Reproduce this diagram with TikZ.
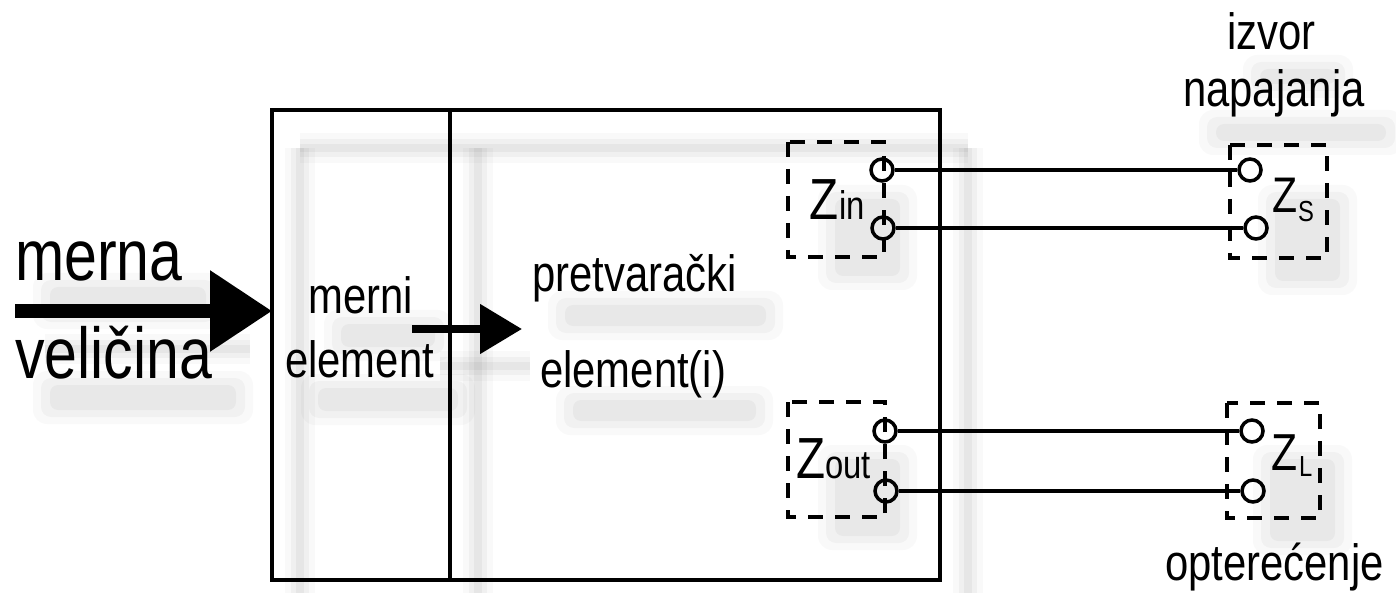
\documentclass[tikz,border=0pt]{standalone}
\usepackage{fontspec}
\setmainfont[FakeStretch=0.82]{Liberation Sans}
\usetikzlibrary{arrows.meta}
\tikzset{
  wire/.style={line width=3.5},
  frame/.style={line width=4},
  dbox/.style={draw, dash pattern=on 15pt off 12pt, line width=3.5},
  term/.style={circle, draw, line width=3.5, minimum size=22, inner sep=0pt},
  lbl/.style={font=\fontsize{51}{53}\selectfont, inner sep=0pt, anchor=base west},
  biglbl/.style={font=\fontsize{72}{74}\selectfont, inner sep=0pt, anchor=base west},
  zlbl/.style={font=\fontsize{58}{60}\selectfont, inner sep=0pt, anchor=base west},
  sublbl/.style={font=\fontsize{40}{42}\selectfont, inner sep=0pt, anchor=base west},
  tinysub/.style={font=\fontsize{29}{31}\selectfont, inner sep=0pt, anchor=base west},
  shade1/.style={draw=black, opacity=0.025, line width=30},
  shade2/.style={draw=black, opacity=0.035, line width=18},
  shade3/.style={draw=black, opacity=0.04, line width=8},
}
\newcommand{\softline}[1]{%
  \draw[shade1] #1; \draw[shade2] #1; \draw[shade3] #1;}
\newcommand{\softblob}[4]{%
  \fill[black, opacity=0.025, rounded corners=14] (#1-12,#2-10) rectangle (#3+12,#4+10);
  \fill[black, opacity=0.03, rounded corners=10] (#1-4,#2-3) rectangle (#3+4,#4+3);
  \fill[black, opacity=0.035, rounded corners=8] (#1+5,#2+4) rectangle (#3-5,#4-4);}
\begin{document}
\begin{tikzpicture}[x=1pt, y=-1pt]
  \useasboundingbox[fill=white] (0,0) rectangle (1396,593);

  % soft shadows
  \softline{(300,148) -- (968,148)}
  \softline{(300,148) -- (300,593)}
  \softline{(478,148) -- (478,593)}
  \softline{(968,148) -- (968,593)}
  \softline{(45,349) -- (250,349)}
  \softline{(440,366) -- (530,366)}
  \softblob{45}{283}{211}{319}
  \softblob{45}{381}{241}{414}
  \softblob{336}{320}{440}{351}
  \softblob{313}{384}{463}{415}
  \softblob{560}{301}{771}{330}
  \softblob{568}{396}{761}{425}
  \softblob{830}{195}{905}{280}
  \softblob{830}{455}{905}{540}
  \softblob{1270}{195}{1345}{285}
  \softblob{1265}{455}{1340}{545}
  \softblob{1255}{65}{1341}{88}
  \softblob{1211}{120}{1391}{145}

  % main block
  \coordinate (boxnw) at (272,110);
  \coordinate (boxse) at (940,580);
  \draw[frame] (boxnw) rectangle (boxse);
  \coordinate (divtop) at (450,110);
  \coordinate (divbot) at (450,580);
  \draw[frame] (divtop) -- (divbot);

  % input arrow
  \coordinate (inL) at (15,311);
  \coordinate (inR) at (272,311);
  \draw[line width=13, -{Triangle[length=62pt,width=78pt]}] (inL) -- (inR);

  % inner arrow
  \coordinate (midL) at (412,329);
  \coordinate (midR) at (522,329);
  \draw[line width=8, -{Triangle[length=42pt,width=48pt]}] (midL) -- (midR);

  % texts
  \node[biglbl] (merna) at (15,281) {merna};
  \node[biglbl] (velicina) at (15,378) {veličina};
  \node[lbl] (merni) at (308,313) {merni};
  \node[lbl] (element) at (285,377) {element};
  \node[lbl] (pretv) at (532,292) {pretvarački};
  \node[lbl] (elementi) at (540,387) {element(i)};
  \node[lbl] (izvor) at (1227,50) {izvor};
  \node[lbl] (napaj) at (1183,107) {napajanja};
  \node[lbl] (opter) at (1165,580) {opterećenje};

  % dashed boxes
  \draw[dbox] (788,142) rectangle (884,257);
  \draw[dbox] (788,402) rectangle (885,517);
  \draw[dbox] (1230,145) rectangle (1327,258);
  \draw[dbox] (1227,403) rectangle (1320,518);

  % Z labels
  \node[zlbl] (zin) at (809,220) {Z};
  \node[sublbl] (zinsub) at (839,220) {in};
  \node[zlbl] (zout) at (796,478) {Z};
  \node[sublbl] (zoutsub) at (825,478) {out};
  \node[zlbl, font=\fontsize{50}{52}\selectfont] (zs) at (1272,213) {Z};
  \node[tinysub] (zssub) at (1298,222) {S};
  \node[zlbl, font=\fontsize{52}{54}\selectfont] (zl) at (1271,470) {Z};
  \node[tinysub] (zlsub) at (1299,476) {L};

  % terminals
  \node[term] (a1) at (882,170) {};
  \node[term] (a2) at (883,228) {};
  \node[term] (b1) at (885,431) {};
  \node[term] (b2) at (886,491) {};
  \node[term] (s1) at (1250,170) {};
  \node[term] (s2) at (1256,228) {};
  \node[term] (l1) at (1252,431) {};
  \node[term] (l2) at (1253,491) {};

  % wires
  \draw[wire] (a1) -- (s1);
  \draw[wire] (a2) -- (s2);
  \draw[wire] (b1) -- (l1);
  \draw[wire] (b2) -- (l2);
\end{tikzpicture}
\end{document}
